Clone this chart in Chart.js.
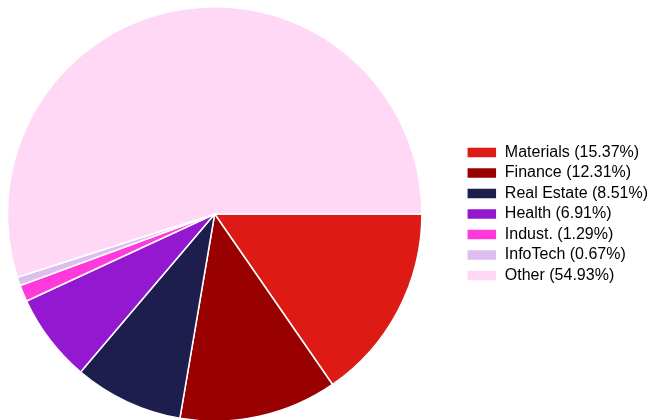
<!DOCTYPE html>
<html>
<head>
<meta charset="utf-8">
<script src="https://cdn.jsdelivr.net/npm/chart.js@4"></script>
<style>
  html, body { margin: 0; padding: 0; background: #fff; overflow: hidden; }
  #wrap { position: relative; width: 649px; height: 420px; overflow: hidden; }
  #box { position: absolute; left: -33px; top: 0; width: 691px; height: 428px; }
</style>
</head>
<body>
<div id="wrap"><div id="box"><canvas id="myChart"></canvas></div></div>
<script>
const sectors = ['Materials', 'Finance', 'Real Estate', 'Health', 'Indust.', 'InfoTech', 'Other'];
const shares = [15.37, 12.31, 8.51, 6.91, 1.29, 0.67, 54.93];
const colors = ['#dd1a14', '#990000', '#1e1e4e', '#9318d0', '#ff3adc', '#dcbef0', '#ffd8f6'];

const ctx = document.getElementById('myChart');
new Chart(ctx, {
    type: 'pie',
    data: {
        labels: sectors.map((s, i) => s + ' (' + shares[i].toFixed(2) + '%)'),
        datasets: [
            {
                data: shares,
                backgroundColor: colors,
                borderColor: '#ffffff',
                borderWidth: 1.5
            }
        ]
    },
    options: {
        responsive: true,
        maintainAspectRatio: false,
        animation: false,
        devicePixelRatio: 1,
        rotation: 90,
        layout: {
            padding: { top: 6, bottom: 6, left: 0, right: 0 }
        },
        plugins: {
            tooltip: { enabled: false },
            legend: {
                position: 'right',
                labels: {
                    boxWidth: 30,
                    boxHeight: 11,
                    padding: 4.5,
                    color: '#000000',
                    font: { family: 'Liberation Sans, Arial, sans-serif', size: 16 }
                }
            }
        }
    }
});
</script>
</body>
</html>
